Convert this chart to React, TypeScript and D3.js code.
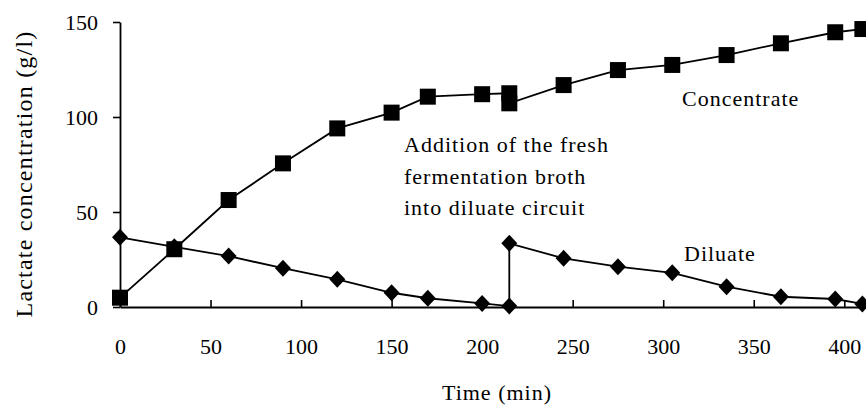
import React, { useEffect, useRef } from 'react';
import * as d3 from 'd3';

// Time points (min) - both circuits were sampled at the same times
const times = [0, 30, 60, 90, 120, 150, 170, 200, 215, 215, 245, 275, 305, 335, 365, 395, 410];

// Lactate concentration (g/l)
const concentrate = [4.9, 30.4, 56.3, 75.6, 94, 102.3, 110.7, 112, 112.5, 107.2, 116.8, 124.7, 127.4, 132.6, 138.8, 144.6, 146.3];
const diluate = [36.7, 31.7, 26.8, 20.4, 14.6, 7.5, 4.6, 1.9, 0.5, 33.5, 25.6, 21.2, 18, 10.7, 5.4, 4.2, 1.6];

const xTicks = [0, 50, 100, 150, 200, 250, 300, 350, 400];
const yTicks = [0, 50, 100, 150];

const annotation = ['Addition of the fresh', 'fermentation broth', 'into diluate circuit'];

const FONT = '"Liberation Serif", "Times New Roman", serif';

export default function App() {
  const ref = useRef<SVGSVGElement>(null);

  useEffect(() => {
    const svg = d3.select(ref.current);
    svg.selectAll('*').remove();

    const x = d3.scaleLinear().domain([0, 412]).range([120, 866]);
    const y = d3.scaleLinear().domain([0, 150]).range([307, 22]);

    // axes
    const xAxis = d3
      .axisBottom(x)
      .tickValues(xTicks)
      .tickSizeInner(-7)
      .tickSizeOuter(0)
      .tickPadding(31);
    const gx = svg.append('g').attr('transform', 'translate(0,307)').call(xAxis);

    const yAxis = d3.axisLeft(y).tickValues(yTicks).tickSize(7).tickSizeOuter(0).tickPadding(15);
    const gy = svg.append('g').attr('transform', 'translate(120,0)').call(yAxis);

    [gx, gy].forEach(g => {
      g.select('.domain').attr('stroke', '#000').attr('stroke-width', 1.8);
      g.selectAll('.tick line').attr('stroke', '#000').attr('stroke-width', 1.6);
      g.selectAll('.tick text')
        .attr('fill', '#000')
        .style('font-family', FONT)
        .style('font-size', '22px');
    });

    const line = d3
      .line<number>()
      .x((d, i) => x(times[i]))
      .y(d => y(d));

    const series = [diluate, concentrate];
    series.forEach(vals => {
      svg
        .append('path')
        .datum(vals)
        .attr('d', line)
        .attr('fill', 'none')
        .attr('stroke', '#000')
        .attr('stroke-width', 1.8);
    });

    // diamonds for diluate
    svg
      .append('g')
      .selectAll('path')
      .data(diluate)
      .enter()
      .append('path')
      .attr('transform', (d, i) => `translate(${x(times[i])},${y(d)})`)
      .attr('d', 'M0,-8.5L8,0L0,8.5L-8,0Z')
      .attr('fill', '#000');

    // squares for concentrate
    svg
      .append('g')
      .selectAll('rect')
      .data(concentrate)
      .enter()
      .append('rect')
      .attr('x', (d, i) => x(times[i]) - 8)
      .attr('y', d => y(d) - 8)
      .attr('width', 16)
      .attr('height', 16)
      .attr('fill', '#000');

    const text = (s: string, tx: number, ty: number, anchor = 'start', size = 22) =>
      svg
        .append('text')
        .attr('x', tx)
        .attr('y', ty)
        .attr('text-anchor', anchor)
        .style('font-family', FONT)
        .style('font-size', size + 'px')
        .style('letter-spacing', '1px')
        .attr('fill', '#000')
        .text(s);

    annotation.forEach((s, i) => text(s, 404, 152 + i * 31.5));
    text('Concentrate', 682, 106);
    text('Diluate', 684, 261);
    text('Time (min)', 497, 400, 'middle');

    svg
      .append('text')
      .attr('transform', 'translate(32,174) rotate(-90)')
      .attr('text-anchor', 'middle')
      .style('font-family', FONT)
      .style('font-size', '24px')
      .style('letter-spacing', '1.2px')
      .attr('fill', '#000')
      .text('Lactate concentration (g/l)');
  }, []);

  return (
    <svg
      ref={ref}
      width={866}
      height={405}
      style={{ position: 'absolute', left: 0, top: 0, display: 'block', background: '#fff' }}
    />
  );
}
